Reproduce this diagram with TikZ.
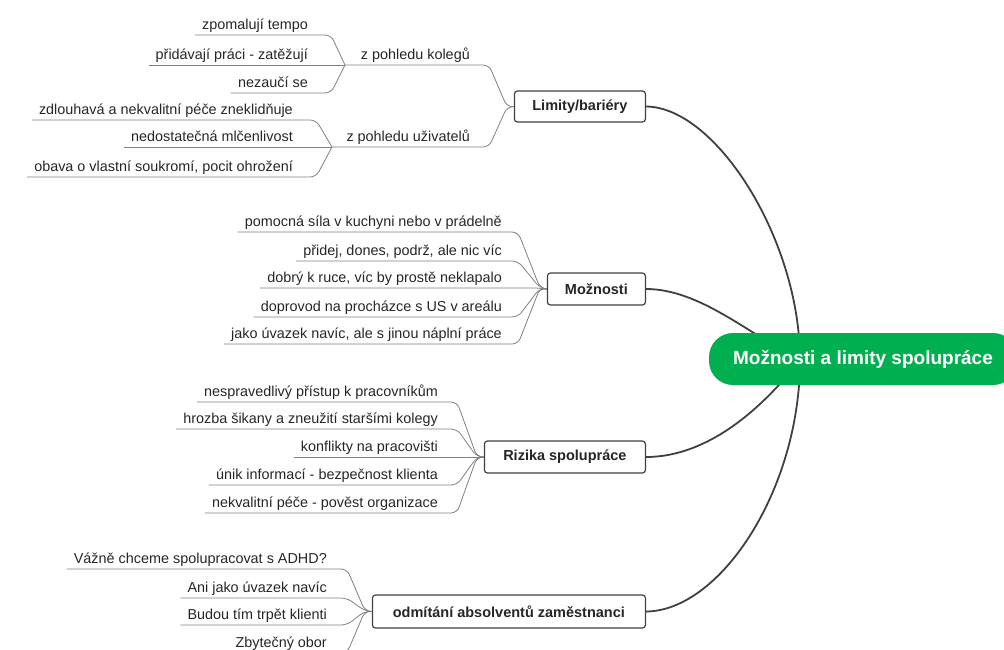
\documentclass[tikz,border=0pt]{standalone}
\usepackage{fontspec}
\setmainfont{Liberation Sans}
\usetikzlibrary{backgrounds}
\definecolor{rootgreen}{HTML}{00B050}
\definecolor{branchgray}{HTML}{404040}
\definecolor{leafgray}{HTML}{808080}
\definecolor{txt}{HTML}{262626}
\begin{document}
\begin{tikzpicture}[x=1pt,y=-1pt,
  leaf/.style={anchor=south east, inner xsep=7pt, inner ysep=0pt, text height=11pt, text depth=5pt, font=\fontsize{14.4}{17}\selectfont, text=txt},
  leafline/.style={draw=leafgray, line width=0.8pt, rounded corners=6pt},
  topic/.style={draw=branchgray, line width=1.2pt, rounded corners=3pt, fill=white, font=\bfseries\fontsize{14.5}{17}\selectfont, text=txt, inner sep=0pt, anchor=east},
  rootbox/.style={fill=rootgreen, text=white, rounded corners=24pt, minimum width=308pt, minimum height=52pt, inner sep=0pt, font=\bfseries\fontsize{19}{22}\selectfont},
  mainline/.style={draw=branchgray, line width=1.8pt},
]
\useasboundingbox (0,0) rectangle (1004,649);
\clip (0,0) rectangle (1004,649);

% root and hub
\node[rootbox] (root) at (863,359) {Možnosti a limity spolupráce};
\coordinate (hub) at (800,360);

% main topics
\node[topic, minimum width=131pt, minimum height=31pt] (lim) at (646,106.5) {Limity/bariéry};
\node[topic, minimum width=98pt, minimum height=32pt] (moz) at (646,289) {Možnosti};
\node[topic, minimum width=161pt, minimum height=32pt] (riz) at (646,457) {Rizika spolupráce};
\node[topic, minimum width=273pt, minimum height=33pt] (odm) at (646,611.5) {odmítání absolventů zaměstnanci};

\begin{pgfonlayer}{background}
\draw[mainline] (lim.east) .. controls (716,107) and (800,240) .. (hub);
\draw[mainline] (moz.east) .. controls (700,289) and (750,335) .. (hub);
\draw[mainline] (riz.east) .. controls (710,457) and (765,405) .. (hub);
\draw[mainline] (odm.east) .. controls (720,611) and (800,490) .. (hub);
\end{pgfonlayer}

% ---------- Limity/bariery ----------
\coordinate (L) at (507,107);
\coordinate (K) at (345,65);
\coordinate (U) at (332,147);
\node[leaf] (kol) at (477,65) {z pohledu kolegů};
\node[leaf] (uzi) at (477,147) {z pohledu uživatelů};
\draw[leafline] (K) -- ([xshift=12pt]kol.south east) -- (L) -- (lim.west);
\draw[leafline] (U) -- ([xshift=12pt]uzi.south east) -- (L) -- (lim.west);

\node[leaf] (k1) at (315,35) {zpomalují tempo};
\node[leaf] (k2) at (315,65) {přidávají práci - zatěžují};
\node[leaf] (k3) at (315,93) {nezaučí se};
\draw[leafline] (k1.south west) -- ([xshift=16pt]k1.south east) -- (K);
\draw[leafline] (k2.south west) -- (K);
\draw[leafline] (k3.south west) -- ([xshift=16pt]k3.south east) -- (K);

\node[leaf] (u1) at (300,120) {zdlouhavá a nekvalitní péče zneklidňuje};
\node[leaf] (u2) at (300,147) {nedostatečná mlčenlivost};
\node[leaf] (u3) at (300,177) {obava o vlastní soukromí, pocit ohrožení};
\draw[leafline] (u1.south west) -- ([xshift=16pt]u1.south east) -- (U);
\draw[leafline] (u2.south west) -- (U);
\draw[leafline] (u3.south west) -- ([xshift=16pt]u3.south east) -- (U);

% ---------- Moznosti ----------
\coordinate (M) at (540,288);
\node[leaf] (m1) at (509,232) {pomocná síla v kuchyni nebo v prádelně};
\node[leaf] (m2) at (509,261) {přidej, dones, podrž, ale nic víc};
\node[leaf] (m3) at (509,288) {dobrý k ruce, víc by prostě neklapalo};
\node[leaf] (m4) at (509,317) {doprovod na procházce s US v areálu};
\node[leaf] (m5) at (509,344) {jako úvazek navíc, ale s jinou náplní práce};
\draw[leafline] (m1.south west) -- ([xshift=9pt]m1.south east) -- (M) -- (moz.west);
\draw[leafline] (m2.south west) -- ([xshift=9pt]m2.south east) -- (M) -- (moz.west);
\draw[leafline] (m3.south west) -- (M) -- (moz.west);
\draw[leafline] (m4.south west) -- ([xshift=9pt]m4.south east) -- (M) -- (moz.west);
\draw[leafline] (m5.south west) -- ([xshift=9pt]m5.south east) -- (M) -- (moz.west);

% ---------- Rizika ----------
\coordinate (R) at (477,457);
\node[leaf] (r1) at (445,402) {nespravedlivý přístup k pracovníkům};
\node[leaf] (r2) at (445,429) {hrozba šikany a zneužití staršími kolegy};
\node[leaf] (r3) at (445,457) {konflikty na pracovišti};
\node[leaf] (r4) at (445,485) {únik informací - bezpečnost klienta};
\node[leaf] (r5) at (445,513) {nekvalitní péče - pověst organizace};
\draw[leafline] (r1.south west) -- ([xshift=12pt]r1.south east) -- (R) -- (riz.west);
\draw[leafline] (r2.south west) -- ([xshift=12pt]r2.south east) -- (R) -- (riz.west);
\draw[leafline] (r3.south west) -- (R) -- (riz.west);
\draw[leafline] (r4.south west) -- ([xshift=12pt]r4.south east) -- (R) -- (riz.west);
\draw[leafline] (r5.south west) -- ([xshift=12pt]r5.south east) -- (R) -- (riz.west);

% ---------- odmitani ----------
\coordinate (O) at (365,611);
\node[leaf] (o1) at (334,569) {Vážně chceme spolupracovat s ADHD?};
\node[leaf] (o2) at (334,598) {Ani jako úvazek navíc};
\node[leaf] (o3) at (334,625) {Budou tím trpět klienti};
\node[leaf] (o4) at (334,653) {Zbytečný obor};
\draw[leafline] (o1.south west) -- ([xshift=13pt]o1.south east) -- (O) -- (odm.west);
\draw[leafline] (o2.south west) -- ([xshift=13pt]o2.south east) -- (O) -- (odm.west);
\draw[leafline] (o3.south west) -- ([xshift=13pt]o3.south east) -- (O) -- (odm.west);
\draw[leafline] (o4.south west) -- ([xshift=13pt]o4.south east) -- (O) -- (odm.west);
\end{tikzpicture}
\end{document}
